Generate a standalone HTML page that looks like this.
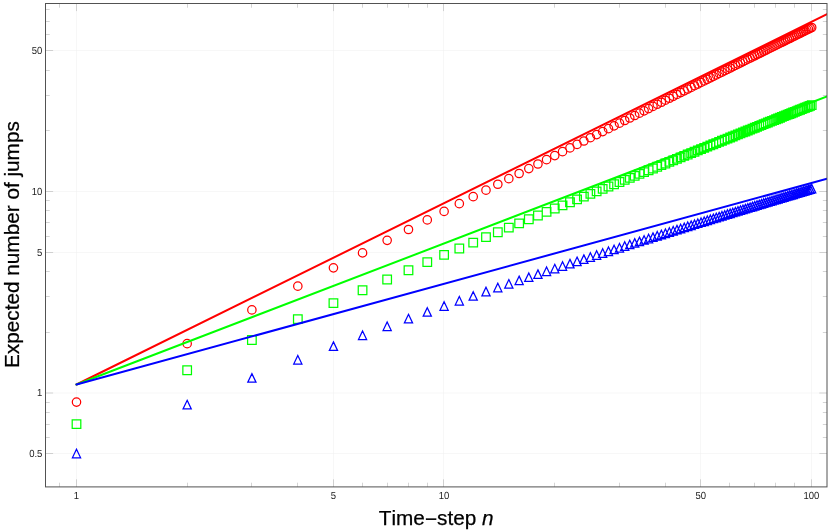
<!DOCTYPE html>
<html><head><meta charset="utf-8"><title>plot</title>
<style>html,body{margin:0;padding:0;background:#fff;width:830px;height:530px;overflow:hidden}</style>
</head><body>
<svg width="830" height="530" viewBox="0 0 830 530" style="position:absolute;left:0;top:0;will-change:transform;font-kerning:none;font-family:'Liberation Sans',sans-serif">
<rect width="830" height="530" fill="#fff"/>
<path d="M76.5 3.5V486.9M333.5 3.5V486.9M443.5 3.5V486.9M700.5 3.5V486.9M811.5 3.5V486.9M45.5 453.5H827M45.5 393H827M45.5 252.5H827M45.5 191.5H827M45.5 50.5H827" stroke="#eeeeee" stroke-width="0.5" fill="none"/>
<path d="M76.5 486.9v-7.6M76.5 3.5v7.6M333.5 486.9v-7.6M333.5 3.5v7.6M443.5 486.9v-7.6M443.5 3.5v7.6M700.5 486.9v-7.6M700.5 3.5v7.6M811.5 486.9v-7.6M811.5 3.5v7.6M59.5 486.9v-4.2M59.5 3.5v4.2M187.5 486.9v-4.2M187.5 3.5v4.2M251.5 486.9v-4.2M251.5 3.5v4.2M297.5 486.9v-4.2M297.5 3.5v4.2M362.5 486.9v-4.2M362.5 3.5v4.2M387.5 486.9v-4.2M387.5 3.5v4.2M408.5 486.9v-4.2M408.5 3.5v4.2M427.5 486.9v-4.2M427.5 3.5v4.2M554.5 486.9v-4.2M554.5 3.5v4.2M619.5 486.9v-4.2M619.5 3.5v4.2M665.5 486.9v-4.2M665.5 3.5v4.2M729.5 486.9v-4.2M729.5 3.5v4.2M754.5 486.9v-4.2M754.5 3.5v4.2M775.5 486.9v-4.2M775.5 3.5v4.2M794.5 486.9v-4.2M794.5 3.5v4.2M45.5 453.5h7.6M827 453.5h-7.6M45.5 393h7.6M827 393h-7.6M45.5 252.5h7.6M827 252.5h-7.6M45.5 191.5h7.6M827 191.5h-7.6M45.5 50.5h7.6M827 50.5h-7.6M45.5 437.5h4.2M827 437.5h-4.2M45.5 424.5h4.2M827 424.5h-4.2M45.5 412.5h4.2M827 412.5h-4.2M45.5 402.5h4.2M827 402.5h-4.2M45.5 332.5h4.2M827 332.5h-4.2M45.5 296.5h4.2M827 296.5h-4.2M45.5 271.5h4.2M827 271.5h-4.2M45.5 236.5h4.2M827 236.5h-4.2M45.5 222.5h4.2M827 222.5h-4.2M45.5 210.5h4.2M827 210.5h-4.2M45.5 200.5h4.2M827 200.5h-4.2M45.5 130.5h4.2M827 130.5h-4.2M45.5 95.5h4.2M827 95.5h-4.2M45.5 70.5h4.2M827 70.5h-4.2M45.5 34.5h4.2M827 34.5h-4.2M45.5 21.5h4.2M827 21.5h-4.2M45.5 9.5h4.2M827 9.5h-4.2" stroke="#a8a8a8" stroke-width="0.5" fill="none"/>
<clipPath id="c"><rect x="45.5" y="3.5" width="781.5" height="483.4"/></clipPath>
<g clip-path="url(#c)" fill="none">
<g stroke="#f00" stroke-width="1.25"><circle cx="76.5" cy="402.12" r="4.2"/><circle cx="187.16" cy="343.69" r="4.2"/><circle cx="251.89" cy="309.93" r="4.2"/><circle cx="297.82" cy="286.16" r="4.2"/><circle cx="333.44" cy="267.83" r="4.2"/><circle cx="362.55" cy="252.91" r="4.2"/><circle cx="387.16" cy="240.34" r="4.2"/><circle cx="408.48" cy="229.48" r="4.2"/><circle cx="427.28" cy="219.92" r="4.2"/><circle cx="444.1" cy="211.38" r="4.2"/><circle cx="459.32" cy="203.68" r="4.2"/><circle cx="473.21" cy="196.65" r="4.2"/><circle cx="485.99" cy="190.19" r="4.2"/><circle cx="497.82" cy="184.22" r="4.2"/><circle cx="508.83" cy="178.67" r="4.2"/><circle cx="519.13" cy="173.48" r="4.2"/><circle cx="528.81" cy="168.61" r="4.2"/><circle cx="537.94" cy="164.02" r="4.2"/><circle cx="546.57" cy="159.68" r="4.2"/><circle cx="554.76" cy="155.57" r="4.2"/><circle cx="562.55" cy="151.66" r="4.2"/><circle cx="569.97" cy="147.94" r="4.2"/><circle cx="577.07" cy="144.38" r="4.2"/><circle cx="583.87" cy="140.97" r="4.2"/><circle cx="590.38" cy="137.71" r="4.2"/><circle cx="596.64" cy="134.57" r="4.2"/><circle cx="602.67" cy="131.56" r="4.2"/><circle cx="608.48" cy="128.65" r="4.2"/><circle cx="614.08" cy="125.85" r="4.2"/><circle cx="619.49" cy="123.14" r="4.2"/><circle cx="624.72" cy="120.53" r="4.2"/><circle cx="629.79" cy="117.99" r="4.2"/><circle cx="634.71" cy="115.54" r="4.2"/><circle cx="639.47" cy="113.16" r="4.2"/><circle cx="644.1" cy="110.85" r="4.2"/><circle cx="648.6" cy="108.6" r="4.2"/><circle cx="652.97" cy="106.42" r="4.2"/><circle cx="657.23" cy="104.29" r="4.2"/><circle cx="661.38" cy="102.23" r="4.2"/><circle cx="665.42" cy="100.21" r="4.2"/><circle cx="669.36" cy="98.24" r="4.2"/><circle cx="673.21" cy="96.33" r="4.2"/><circle cx="676.96" cy="94.45" r="4.2"/><circle cx="680.63" cy="92.62" r="4.2"/><circle cx="684.22" cy="90.84" r="4.2"/><circle cx="687.73" cy="89.09" r="4.2"/><circle cx="691.16" cy="87.38" r="4.2"/><circle cx="694.52" cy="85.7" r="4.2"/><circle cx="697.82" cy="84.06" r="4.2"/><circle cx="701.04" cy="82.46" r="4.2"/><circle cx="704.2" cy="80.88" r="4.2"/><circle cx="707.3" cy="79.34" r="4.2"/><circle cx="710.34" cy="77.83" r="4.2"/><circle cx="713.33" cy="76.34" r="4.2"/><circle cx="716.26" cy="74.88" r="4.2"/><circle cx="719.13" cy="73.45" r="4.2"/><circle cx="721.96" cy="72.05" r="4.2"/><circle cx="724.74" cy="70.66" r="4.2"/><circle cx="727.47" cy="69.31" r="4.2"/><circle cx="730.15" cy="67.97" r="4.2"/><circle cx="732.79" cy="66.66" r="4.2"/><circle cx="735.38" cy="65.37" r="4.2"/><circle cx="737.94" cy="64.1" r="4.2"/><circle cx="740.45" cy="62.85" r="4.2"/><circle cx="742.93" cy="61.62" r="4.2"/><circle cx="745.36" cy="60.41" r="4.2"/><circle cx="747.77" cy="59.21" r="4.2"/><circle cx="750.13" cy="58.04" r="4.2"/><circle cx="752.46" cy="56.88" r="4.2"/><circle cx="754.76" cy="55.74" r="4.2"/><circle cx="757.02" cy="54.61" r="4.2"/><circle cx="759.26" cy="53.5" r="4.2"/><circle cx="761.46" cy="52.41" r="4.2"/><circle cx="763.63" cy="51.33" r="4.2"/><circle cx="765.77" cy="50.27" r="4.2"/><circle cx="767.89" cy="49.21" r="4.2"/><circle cx="769.97" cy="48.18" r="4.2"/><circle cx="772.03" cy="47.16" r="4.2"/><circle cx="774.07" cy="46.15" r="4.2"/><circle cx="776.08" cy="45.15" r="4.2"/><circle cx="778.06" cy="44.16" r="4.2"/><circle cx="780.02" cy="43.19" r="4.2"/><circle cx="781.95" cy="42.23" r="4.2"/><circle cx="783.87" cy="41.28" r="4.2"/><circle cx="785.75" cy="40.34" r="4.2"/><circle cx="787.62" cy="39.42" r="4.2"/><circle cx="789.47" cy="38.5" r="4.2"/><circle cx="791.29" cy="37.59" r="4.2"/><circle cx="793.1" cy="36.7" r="4.2"/><circle cx="794.88" cy="35.81" r="4.2"/><circle cx="796.64" cy="34.94" r="4.2"/><circle cx="798.39" cy="34.07" r="4.2"/><circle cx="800.11" cy="33.22" r="4.2"/><circle cx="801.82" cy="32.37" r="4.2"/><circle cx="803.51" cy="31.53" r="4.2"/><circle cx="805.18" cy="30.7" r="4.2"/><circle cx="806.84" cy="29.88" r="4.2"/><circle cx="808.47" cy="29.07" r="4.2"/><circle cx="810.1" cy="28.26" r="4.2"/><circle cx="811.7" cy="27.47" r="4.2"/></g>
<path d="M72.2 419.8h8.6v8.6h-8.6zM182.86 365.98h8.6v8.6h-8.6zM247.59 335.71h8.6v8.6h-8.6zM293.52 314.75h8.6v8.6h-8.6zM329.14 298.79h8.6v8.6h-8.6zM358.25 285.92h8.6v8.6h-8.6zM382.86 275.15h8.6v8.6h-8.6zM404.18 265.91h8.6v8.6h-8.6zM422.98 257.82h8.6v8.6h-8.6zM439.8 250.63h8.6v8.6h-8.6zM455.02 244.15h8.6v8.6h-8.6zM468.91 238.27h8.6v8.6h-8.6zM481.69 232.89h8.6v8.6h-8.6zM493.52 227.92h8.6v8.6h-8.6zM504.53 223.31h8.6v8.6h-8.6zM514.83 219.01h8.6v8.6h-8.6zM524.51 214.98h8.6v8.6h-8.6zM533.64 211.2h8.6v8.6h-8.6zM542.27 207.62h8.6v8.6h-8.6zM550.46 204.24h8.6v8.6h-8.6zM558.25 201.03h8.6v8.6h-8.6zM565.67 197.97h8.6v8.6h-8.6zM572.77 195.06h8.6v8.6h-8.6zM579.57 192.27h8.6v8.6h-8.6zM586.08 189.6h8.6v8.6h-8.6zM592.34 187.04h8.6v8.6h-8.6zM598.37 184.58h8.6v8.6h-8.6zM604.18 182.22h8.6v8.6h-8.6zM609.78 179.93h8.6v8.6h-8.6zM615.19 177.73h8.6v8.6h-8.6zM620.42 175.61h8.6v8.6h-8.6zM625.49 173.55h8.6v8.6h-8.6zM630.41 171.56h8.6v8.6h-8.6zM635.17 169.63h8.6v8.6h-8.6zM639.8 167.75h8.6v8.6h-8.6zM644.3 165.93h8.6v8.6h-8.6zM648.67 164.17h8.6v8.6h-8.6zM652.93 162.45h8.6v8.6h-8.6zM657.08 160.78h8.6v8.6h-8.6zM661.12 159.15h8.6v8.6h-8.6zM665.06 157.56h8.6v8.6h-8.6zM668.91 156.01h8.6v8.6h-8.6zM672.66 154.5h8.6v8.6h-8.6zM676.33 153.03h8.6v8.6h-8.6zM679.92 151.58h8.6v8.6h-8.6zM683.43 150.18h8.6v8.6h-8.6zM686.86 148.8h8.6v8.6h-8.6zM690.22 147.45h8.6v8.6h-8.6zM693.52 146.13h8.6v8.6h-8.6zM696.74 144.84h8.6v8.6h-8.6zM699.9 143.57h8.6v8.6h-8.6zM703 142.33h8.6v8.6h-8.6zM706.04 141.12h8.6v8.6h-8.6zM709.03 139.92h8.6v8.6h-8.6zM711.96 138.75h8.6v8.6h-8.6zM714.83 137.6h8.6v8.6h-8.6zM717.66 136.48h8.6v8.6h-8.6zM720.44 135.37h8.6v8.6h-8.6zM723.17 134.28h8.6v8.6h-8.6zM725.85 133.21h8.6v8.6h-8.6zM728.49 132.16h8.6v8.6h-8.6zM731.08 131.12h8.6v8.6h-8.6zM733.64 130.11h8.6v8.6h-8.6zM736.15 129.11h8.6v8.6h-8.6zM738.63 128.12h8.6v8.6h-8.6zM741.06 127.15h8.6v8.6h-8.6zM743.47 126.2h8.6v8.6h-8.6zM745.83 125.25h8.6v8.6h-8.6zM748.16 124.33h8.6v8.6h-8.6zM750.46 123.42h8.6v8.6h-8.6zM752.72 122.52h8.6v8.6h-8.6zM754.96 121.63h8.6v8.6h-8.6zM757.16 120.76h8.6v8.6h-8.6zM759.33 119.89h8.6v8.6h-8.6zM761.47 119.04h8.6v8.6h-8.6zM763.59 118.2h8.6v8.6h-8.6zM765.67 117.38h8.6v8.6h-8.6zM767.73 116.56h8.6v8.6h-8.6zM769.77 115.75h8.6v8.6h-8.6zM771.78 114.96h8.6v8.6h-8.6zM773.76 114.17h8.6v8.6h-8.6zM775.72 113.4h8.6v8.6h-8.6zM777.65 112.63h8.6v8.6h-8.6zM779.57 111.87h8.6v8.6h-8.6zM781.45 111.13h8.6v8.6h-8.6zM783.32 110.39h8.6v8.6h-8.6zM785.17 109.66h8.6v8.6h-8.6zM786.99 108.93h8.6v8.6h-8.6zM788.8 108.22h8.6v8.6h-8.6zM790.58 107.52h8.6v8.6h-8.6zM792.34 106.82h8.6v8.6h-8.6zM794.09 106.13h8.6v8.6h-8.6zM795.81 105.45h8.6v8.6h-8.6zM797.52 104.77h8.6v8.6h-8.6zM799.21 104.11h8.6v8.6h-8.6zM800.88 103.45h8.6v8.6h-8.6zM802.54 102.79h8.6v8.6h-8.6zM804.17 102.15h8.6v8.6h-8.6zM805.8 101.51h8.6v8.6h-8.6zM807.4 100.87h8.6v8.6h-8.6z" stroke="#0f0" stroke-width="1.25"/>
<path d="M76.5 449.29L80.6 457.84H72.4zM187.16 400.33L191.26 408.88H183.06zM251.89 373.62L255.99 382.17H247.79zM297.82 355.48L301.92 364.03H293.72zM333.44 341.86L337.54 350.41H329.34zM362.55 331.01L366.65 339.56H358.45zM387.16 322L391.26 330.55H383.06zM408.48 314.33L412.58 322.88H404.38zM427.28 307.65L431.38 316.2H423.18zM444.1 301.75L448.2 310.3H440zM459.32 296.46L463.42 305.01H455.22zM473.21 291.68L477.31 300.23H469.11zM485.99 287.31L490.09 295.86H481.89zM497.82 283.3L501.92 291.85H493.72zM508.83 279.59L512.93 288.14H504.73zM519.13 276.14L523.23 284.69H515.03zM528.81 272.91L532.91 281.46H524.71zM537.94 269.89L542.04 278.44H533.84zM546.57 267.04L550.67 275.59H542.47zM554.76 264.35L558.86 272.9H550.66zM562.55 261.8L566.65 270.35H558.45zM569.97 259.38L574.07 267.93H565.87zM577.07 257.08L581.17 265.63H572.97zM583.87 254.88L587.97 263.43H579.77zM590.38 252.77L594.48 261.32H586.28zM596.64 250.76L600.74 259.31H592.54zM602.67 248.82L606.77 257.37H598.57zM608.48 246.97L612.58 255.52H604.38zM614.08 245.18L618.18 253.73H609.98zM619.49 243.45L623.59 252H615.39zM624.72 241.79L628.82 250.34H620.62zM629.79 240.18L633.89 248.73H625.69zM634.71 238.63L638.81 247.18H630.61zM639.47 237.12L643.57 245.67H635.37zM644.1 235.66L648.2 244.21H640zM648.6 234.25L652.7 242.8H644.5zM652.97 232.87L657.07 241.42H648.87zM657.23 231.54L661.33 240.09H653.13zM661.38 230.24L665.48 238.79H657.28zM665.42 228.98L669.52 237.53H661.32zM669.36 227.75L673.46 236.3H665.26zM673.21 226.55L677.31 235.1H669.11zM676.96 225.38L681.06 233.93H672.86zM680.63 224.24L684.73 232.79H676.53zM684.22 223.13L688.32 231.68H680.12zM687.73 222.04L691.83 230.59H683.63zM691.16 220.98L695.26 229.53H687.06zM694.52 219.94L698.62 228.49H690.42zM697.82 218.92L701.92 227.47H693.72zM701.04 217.92L705.14 226.47H696.94zM704.2 216.95L708.3 225.5H700.1zM707.3 216L711.4 224.55H703.2zM710.34 215.06L714.44 223.61H706.24zM713.33 214.14L717.43 222.69H709.23zM716.26 213.25L720.36 221.8H712.16zM719.13 212.36L723.23 220.91H715.03zM721.96 211.5L726.06 220.05H717.86zM724.74 210.65L728.84 219.2H720.64zM727.47 209.81L731.57 218.36H723.37zM730.15 208.99L734.25 217.54H726.05zM732.79 208.19L736.89 216.74H728.69zM735.38 207.4L739.48 215.95H731.28zM737.94 206.62L742.04 215.17H733.84zM740.45 205.85L744.55 214.4H736.35zM742.93 205.1L747.03 213.65H738.83zM745.36 204.36L749.46 212.91H741.26zM747.77 203.63L751.87 212.18H743.67zM750.13 202.91L754.23 211.46H746.03zM752.46 202.21L756.56 210.76H748.36zM754.76 201.51L758.86 210.06H750.66zM757.02 200.82L761.12 209.37H752.92zM759.26 200.15L763.36 208.7H755.16zM761.46 199.48L765.56 208.03H757.36zM763.63 198.82L767.73 207.37H759.53zM765.77 198.18L769.87 206.73H761.67zM767.89 197.54L771.99 206.09H763.79zM769.97 196.91L774.07 205.46H765.87zM772.03 196.29L776.13 204.84H767.93zM774.07 195.67L778.17 204.22H769.97zM776.08 195.07L780.18 203.62H771.98zM778.06 194.47L782.16 203.02H773.96zM780.02 193.88L784.12 202.43H775.92zM781.95 193.3L786.05 201.85H777.85zM783.87 192.73L787.97 201.28H779.77zM785.75 192.16L789.85 200.71H781.65zM787.62 191.6L791.72 200.15H783.52zM789.47 191.04L793.57 199.59H785.37zM791.29 190.5L795.39 199.05H787.19zM793.1 189.96L797.2 198.51H789zM794.88 189.42L798.98 197.97H790.78zM796.64 188.89L800.74 197.44H792.54zM798.39 188.37L802.49 196.92H794.29zM800.11 187.85L804.21 196.4H796.01zM801.82 187.34L805.92 195.89H797.72zM803.51 186.84L807.61 195.39H799.41zM805.18 186.34L809.28 194.89H801.08zM806.84 185.84L810.94 194.39H802.74zM808.47 185.36L812.57 193.91H804.37zM810.1 184.87L814.2 193.42H806zM811.7 184.39L815.8 192.94H807.6z" stroke="#00f" stroke-width="1.25" stroke-linejoin="miter"/>
<path d="M76.5 384.52L827 14.21" stroke="#f00" stroke-width="2.0" stroke-linecap="round"/>
<path d="M76.5 384.52L827 96.5" stroke="#0f0" stroke-width="2.0" stroke-linecap="round"/>
<path d="M76.5 384.52L827 178.79" stroke="#00f" stroke-width="2.0" stroke-linecap="round"/>
</g>
<rect x="45.5" y="3.5" width="781.5" height="483.4" fill="none" stroke="#525252" stroke-width="1.0"/>
<g font-size="10.3" fill="#222" text-rendering="geometricPrecision">
<text transform="translate(76.5 498.7) scale(0.922 1)" text-anchor="middle">1</text>
<text transform="translate(333.34 498.7) scale(0.922 1)" text-anchor="middle">5</text>
<text transform="translate(443.95 498.7) scale(0.922 1)" text-anchor="middle">10</text>
<text transform="translate(700.79 498.7) scale(0.922 1)" text-anchor="middle">50</text>
<text transform="translate(811.4 498.7) scale(0.922 1)" text-anchor="middle">100</text>
<text transform="translate(42.4 457.04) scale(0.922 1)" text-anchor="end">0.5</text>
<text transform="translate(42.4 396.4) scale(0.922 1)" text-anchor="end">1</text>
<text transform="translate(42.4 255.59) scale(0.922 1)" text-anchor="end">5</text>
<text transform="translate(42.4 194.95) scale(0.922 1)" text-anchor="end">10</text>
<text transform="translate(42.4 54.14) scale(0.922 1)" text-anchor="end">50</text>
</g>
<text x="436.2" y="524.9" font-size="20.75" text-anchor="middle" fill="#000" stroke="#000" stroke-width="0.25">Time<tspan dy="1.1">−</tspan><tspan dy="-1.1">step </tspan><tspan font-style="italic">n</tspan></text>
<text transform="translate(19.3 244.6) rotate(-90)" font-size="20.75" text-anchor="middle" fill="#000" stroke="#000" stroke-width="0.25">Expected number of jumps</text>
</svg>
</body></html>
